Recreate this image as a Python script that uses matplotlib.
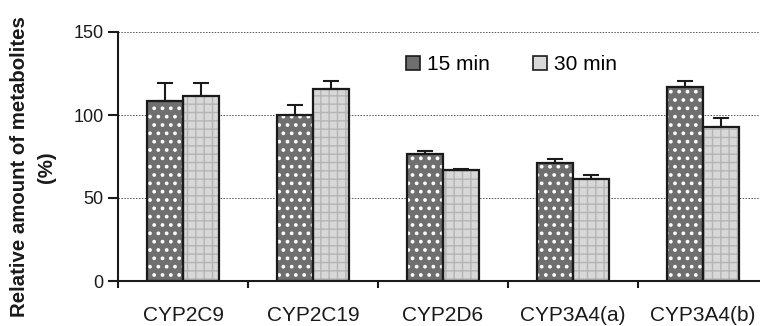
#!/usr/bin/env python3
"""
plot.py - relative amount of metabolites, 15 vs 30 min
"""
import numpy as np
import matplotlib
matplotlib.use('Agg')
from matplotlib import pyplot as plt
from matplotlib.patches import Rectangle

categories = ['CYP2C9', 'CYP2C19', 'CYP2D6', 'CYP3A4(a)', 'CYP3A4(b)']
min15 = [108.5, 100.0, 76.5, 71.3, 116.9]
min15_err = [10.5, 6.0, 2.0, 2.0, 3.4]
min30 = [111.6, 115.9, 66.9, 61.6, 92.6]
min30_err = [7.5, 4.4, 0.4, 2.3, 5.4]
series_labels = ['15 min', '30 min']

plt.rcParams['font.family'] = ['Liberation Sans', 'DejaVu Sans']
INK = '#1a1a1a'
DARK = '#6f6f6f'
LIGHT = '#d8d8d8'

fig = plt.figure(figsize=(7.6, 3.26), dpi=100)
ax = fig.add_axes([118 / 760, 45 / 326, 650 / 760, 249 / 326])

x = np.arange(len(categories))
w = 0.277

# fill + hatch first (hatch takes the edge colour), outline drawn on top
with plt.rc_context({'hatch.linewidth': 1.5}):
    ax.bar(x - w / 2, min15, w, color=DARK, edgecolor='white', hatch='..', lw=0, zorder=2)
with plt.rc_context({'hatch.linewidth': 1.0}):
    ax.bar(x + w / 2, min30, w, color=LIGHT, edgecolor='#b4b4b4', hatch='++', lw=0, zorder=2)
ax.bar(x - w / 2, min15, w, fill=False, edgecolor=INK, lw=1.6, zorder=3)
ax.bar(x + w / 2, min30, w, fill=False, edgecolor=INK, lw=1.6, zorder=3)
ax.errorbar(x - w / 2, min15, yerr=[np.zeros(len(x)), min15_err], fmt='none',
            ecolor=INK, elinewidth=1.5, capsize=6, capthick=1.5, zorder=4)
ax.errorbar(x + w / 2, min30, yerr=[np.zeros(len(x)), min30_err], fmt='none',
            ecolor=INK, elinewidth=1.5, capsize=6, capthick=1.5, zorder=4)

# legend proxies
h1 = Rectangle((0, 0), 1, 1, facecolor=DARK, edgecolor=INK, lw=1.2)
h2 = Rectangle((0, 0), 1, 1, facecolor=LIGHT, edgecolor=INK, lw=1.2)
fig.legend([h1, h2], series_labels, ncol=2, frameon=False, fontsize=15,
           loc='center left', bbox_to_anchor=(406 / 760, 1 - 65 / 326),
           borderpad=0, borderaxespad=0, handlelength=0.65, handleheight=0.65,
           handletextpad=0.35, columnspacing=2.1)

ax.set_xlim(-0.5, len(categories) - 0.5)
ax.set_ylim(0, 150)
ax.set_yticks([0, 50, 100, 150])
ax.set_xticks(x)
ax.set_xticklabels(categories)
ax.set_xticks(np.arange(len(categories)) - 0.5, minor=True)
ax.tick_params(axis='x', which='major', length=0, pad=18, labelsize=15, colors=INK)
ax.tick_params(axis='x', which='minor', length=5, width=1.5, color=INK)
ax.tick_params(axis='y', length=7, width=1.5, labelsize=13, colors=INK, pad=3.5)
ax.yaxis.grid(True, linestyle=(0, (1.5, 1.5)), color='#555555', lw=0.7)
ax.set_axisbelow(True)
for s in ['top', 'right']:
    ax.spines[s].set_visible(False)
for s in ['left', 'bottom']:
    ax.spines[s].set_linewidth(1.5)
    ax.spines[s].set_color(INK)

fig.text(33 / 760, 1 - 167 / 326, 'Relative amount of metabolites\n(%)',
         rotation=90, ha='center', va='center', multialignment='center',
         fontsize=14.7, fontweight='bold', color=INK, linespacing=1.5)

fig.savefig('out.png', dpi=100)
